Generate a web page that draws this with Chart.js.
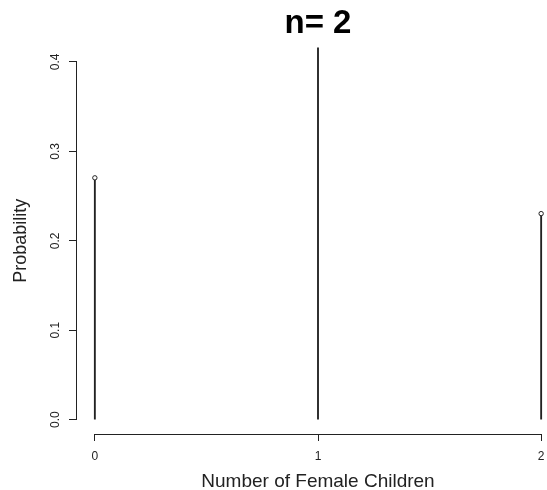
<!DOCTYPE html>
<html>
<head>
<meta charset="utf-8">
<script src="https://cdn.jsdelivr.net/npm/chart.js@4/dist/chart.umd.min.js"></script>
<style>
  html, body { margin: 0; padding: 0; background: #fff; overflow: hidden; }
  #wrap { width: 636px; height: 490px; }
</style>
</head>
<body>
<div id="wrap"><canvas id="plot" width="636" height="490"></canvas></div>
<script>
// binomial probabilities, n = 2
const femaleCounts = [0, 1, 2];
const probabilities = [0.2704, 0.4992, 0.2304];
const yTicks = [0, 0.1, 0.2, 0.3, 0.4];
const xTicks = [0, 1, 2];

const points = femaleCounts.map((k, i) => ({x: k, y: probabilities[i]}));

const font = "'Liberation Sans', Arial, sans-serif";
const ink = '#222';

// R style axes: line only from first to last tick
const axisLines = {
    id: 'axisLines',
    afterDraw(chart) {
        const c = chart.ctx;
        const xs = chart.scales.x, ys = chart.scales.y;
        const area = chart.chartArea;
        c.save();
        c.strokeStyle = ink;
        c.lineWidth = 1;
        c.beginPath();
        c.moveTo(xs.getPixelForValue(xTicks[0]), area.bottom + 0.5);
        c.lineTo(xs.getPixelForValue(xTicks[xTicks.length - 1]), area.bottom + 0.5);
        c.moveTo(area.left - 0.5, ys.getPixelForValue(yTicks[0]));
        c.lineTo(area.left - 0.5, ys.getPixelForValue(yTicks[yTicks.length - 1]));
        c.stroke();
        c.restore();
    }
};

// canvas is wider than the window; an empty right axis keeps the
// title centred over the plot region, as R does
new Chart(document.getElementById('plot'), {
    type: 'bar',
    data: {
        datasets: [{
            data: points,
            backgroundColor: ink,
            borderWidth: 0,
            barThickness: 1.2,
            order: 2
        }, {
            type: 'scatter',
            data: points,
            pointRadius: 2.2,
            pointBackgroundColor: '#fff',
            pointBorderColor: ink,
            pointBorderWidth: 1,
            order: 1
        }]
    },
    options: {
        responsive: false,
        animation: false,
        layout: {padding: 0},
        plugins: {
            legend: {display: false},
            tooltip: {enabled: false},
            title: {
                display: true,
                text: 'n= 2',
                color: '#000',
                font: {family: font, size: 33, weight: 'bold'},
                padding: {top: 4.5, bottom: 3.5}
            }
        },
        scales: {
            x: {
                type: 'linear',
                offset: false,
                min: -0.08,
                max: 2.08,
                afterBuildTicks: s => { s.ticks = xTicks.map(v => ({value: v})); },
                afterFit: s => { s.height = 56; },
                grid: {offset: false, drawOnChartArea: false, drawTicks: true, tickLength: 7, color: ink},
                border: {display: false},
                ticks: {color: ink, font: {family: font, size: 12}, padding: 8, maxRotation: 0},
                title: {display: true, text: 'Number of Female Children', color: ink,
                        font: {family: font, size: 19, lineHeight: 0.9}, padding: {top: 4, bottom: 0}}
            },
            y: {
                min: -0.016,
                max: 0.416,
                afterBuildTicks: s => { s.ticks = yTicks.map(v => ({value: v})); },
                afterFit: s => { s.width = 77; },
                grid: {drawOnChartArea: false, drawTicks: true, tickLength: 8, color: ink},
                border: {display: false},
                ticks: {color: ink, font: {family: font, size: 12}, padding: 5,
                        minRotation: 90, maxRotation: 90, crossAlign: 'center',
                        callback: v => v.toFixed(1)},
                title: {display: true, text: 'Probability', color: ink,
                        font: {family: font, size: 18}, padding: {top: 10, bottom: 4}}
            },
            right: {
                position: 'right',
                min: 0,
                max: 1,
                afterFit: s => { s.width = 77; },
                grid: {display: false},
                border: {display: false},
                ticks: {display: false}
            }
        }
    },
    plugins: [axisLines]
});
</script>
</body>
</html>
